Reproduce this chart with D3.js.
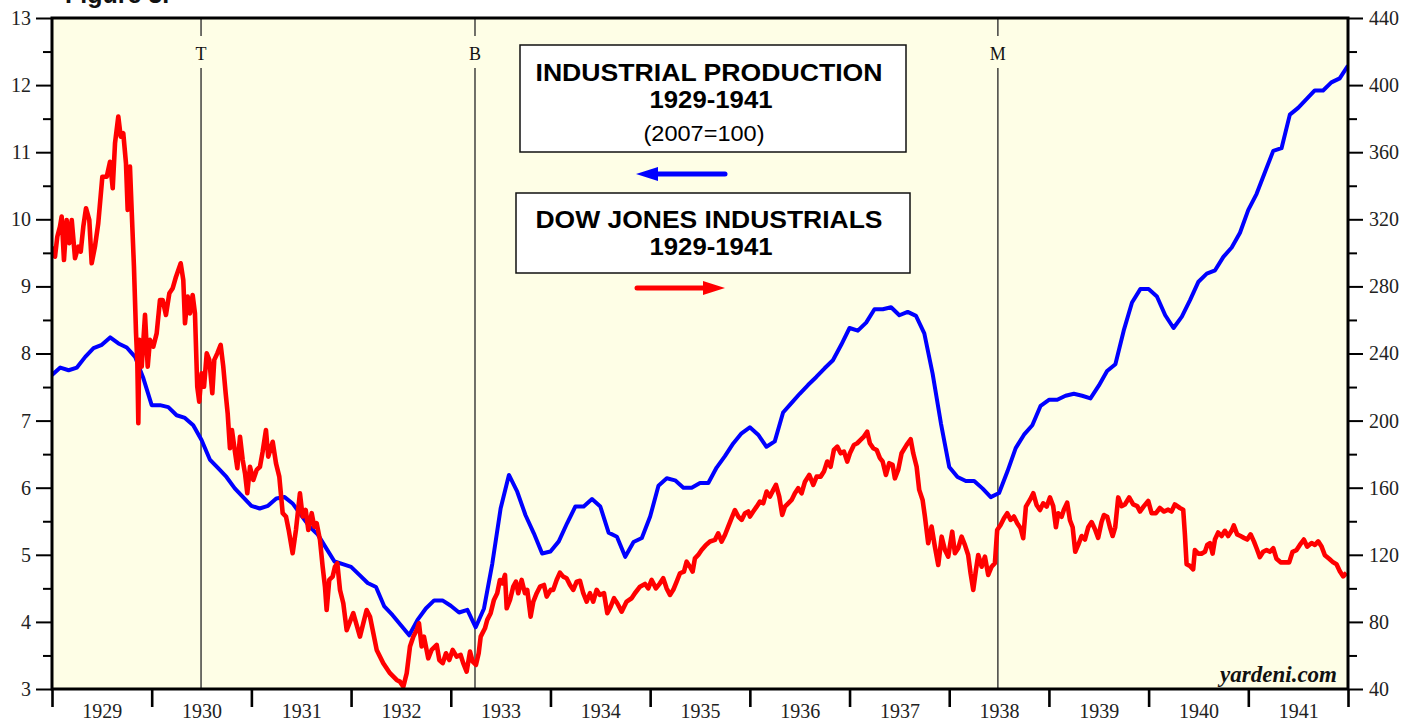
<!DOCTYPE html>
<html>
<head>
<meta charset="utf-8">
<script src="https://cdn.jsdelivr.net/npm/d3@7/dist/d3.min.js"></script>
<style>
    body { margin: 0; background: #fff; }
    svg { display: block; }
</style>
</head>
<body>
<div id="chart"></div>
<script>
// industrial production, monthly from Jan 1929 (2007=100)
const ipStartYear = 1929;
const ipValues = [
    7.68, 7.79, 7.75, 7.79, 7.95, 8.08, 8.13, 8.24, 8.15, 8.09, 7.95, 7.63,
    7.23, 7.23, 7.20, 7.08, 7.04, 6.93, 6.71, 6.42, 6.29, 6.16, 5.99, 5.86,
    5.73, 5.69, 5.73, 5.84, 5.86, 5.76, 5.59, 5.42, 5.30, 5.10, 4.90, 4.86,
    4.82, 4.70, 4.58, 4.52, 4.23, 4.10, 3.95, 3.80, 4.03, 4.20, 4.32, 4.32,
    4.24, 4.14, 4.18, 3.92, 4.20, 4.87, 5.69, 6.19, 5.94, 5.59, 5.32, 5.02,
    5.05, 5.20, 5.47, 5.72, 5.72, 5.83, 5.72, 5.33, 5.27, 4.97, 5.19, 5.25,
    5.57, 6.03, 6.14, 6.11, 6.00, 6.00, 6.07, 6.07, 6.30, 6.47, 6.66, 6.81,
    6.90, 6.79, 6.61, 6.69, 7.12, 7.26, 7.40, 7.53, 7.65, 7.78, 7.90, 8.13,
    8.38, 8.34, 8.46, 8.66, 8.66, 8.69, 8.57, 8.62, 8.56, 8.30, 7.70, 6.96,
    6.31, 6.16, 6.10, 6.10, 5.99, 5.86, 5.92, 6.24, 6.59, 6.79, 6.93, 7.22,
    7.31, 7.31, 7.37, 7.40, 7.37, 7.33, 7.52, 7.74, 7.84, 8.34, 8.76, 8.96,
    8.96, 8.85, 8.57, 8.38, 8.55, 8.80, 9.07, 9.19, 9.24, 9.44, 9.58, 9.80,
    10.14, 10.38, 10.70, 11.02, 11.06, 11.56, 11.66, 11.79, 11.92, 11.92, 12.04, 12.10,
    12.29
];

// dow jones industrials (decimal year, index level)
const dowDates = [
    1929.000, 1929.030, 1929.053, 1929.080, 1929.097, 1929.120, 1929.147, 1929.174, 1929.198, 1929.231,
    1929.264, 1929.288, 1929.314, 1929.341, 1929.374, 1929.398, 1929.431, 1929.464, 1929.505, 1929.549,
    1929.582, 1929.609, 1929.632, 1929.665, 1929.689, 1929.715, 1929.742, 1929.759, 1929.782, 1929.799,
    1929.822, 1929.843, 1929.856, 1929.866, 1929.876, 1929.900, 1929.933, 1929.960, 1929.983, 1930.016,
    1930.050, 1930.083, 1930.110, 1930.143, 1930.177, 1930.211, 1930.244, 1930.291, 1930.317, 1930.334,
    1930.361, 1930.384, 1930.411, 1930.434, 1930.457, 1930.477, 1930.501, 1930.525, 1930.552, 1930.578,
    1930.608, 1930.628, 1930.658, 1930.692, 1930.718, 1930.742, 1930.762, 1930.785, 1930.805, 1930.828,
    1930.859, 1930.886, 1930.913, 1930.936, 1930.959, 1930.986, 1931.019, 1931.053, 1931.086, 1931.113,
    1931.146, 1931.169, 1931.214, 1931.247, 1931.280, 1931.314, 1931.347, 1931.374, 1931.414, 1931.447,
    1931.487, 1931.514, 1931.545, 1931.571, 1931.605, 1931.631, 1931.655, 1931.688, 1931.715, 1931.738,
    1931.755, 1931.781, 1931.815, 1931.838, 1931.862, 1931.889, 1931.922, 1931.956, 1932.022, 1932.089,
    1932.156, 1932.190, 1932.257, 1932.323, 1932.390, 1932.457, 1932.490, 1932.524, 1932.558, 1932.591,
    1932.624, 1932.658, 1932.681, 1932.708, 1932.731, 1932.774, 1932.808, 1932.859, 1932.885, 1932.919,
    1932.952, 1932.985, 1933.019, 1933.059, 1933.099, 1933.125, 1933.159, 1933.193, 1933.220, 1933.253,
    1933.280, 1933.300, 1933.343, 1933.366, 1933.400, 1933.433, 1933.466, 1933.493, 1933.517, 1933.544,
    1933.561, 1933.594, 1933.627, 1933.654, 1933.677, 1933.711, 1933.744, 1933.767, 1933.801, 1933.828,
    1933.862, 1933.895, 1933.935, 1933.962, 1934.002, 1934.028, 1934.062, 1934.095, 1934.128, 1934.162,
    1934.196, 1934.229, 1934.263, 1934.296, 1934.329, 1934.363, 1934.396, 1934.429, 1934.463, 1934.496,
    1934.537, 1934.570, 1934.604, 1934.637, 1934.670, 1934.714, 1934.764, 1934.814, 1934.847, 1934.898,
    1934.948, 1934.981, 1935.015, 1935.058, 1935.098, 1935.131, 1935.165, 1935.199, 1935.232, 1935.266,
    1935.299, 1935.339, 1935.366, 1935.399, 1935.426, 1935.449, 1935.482, 1935.516, 1935.560, 1935.600,
    1935.650, 1935.683, 1935.717, 1935.750, 1935.783, 1935.817, 1935.850, 1935.884, 1935.918, 1935.951,
    1935.984, 1936.001, 1936.034, 1936.068, 1936.101, 1936.134, 1936.168, 1936.202, 1936.235, 1936.262,
    1936.295, 1936.325, 1936.352, 1936.385, 1936.419, 1936.452, 1936.485, 1936.519, 1936.553, 1936.596,
    1936.636, 1936.670, 1936.710, 1936.743, 1936.776, 1936.810, 1936.843, 1936.877, 1936.911, 1936.944,
    1936.977, 1937.004, 1937.044, 1937.077, 1937.111, 1937.144, 1937.177, 1937.204, 1937.238, 1937.272,
    1937.305, 1937.332, 1937.365, 1937.398, 1937.432, 1937.455, 1937.488, 1937.522, 1937.573, 1937.613,
    1937.639, 1937.673, 1937.699, 1937.733, 1937.756, 1937.789, 1937.823, 1937.856, 1937.890, 1937.924,
    1937.957, 1937.990, 1938.030, 1938.057, 1938.090, 1938.124, 1938.157, 1938.190, 1938.214, 1938.241,
    1938.268, 1938.291, 1938.325, 1938.358, 1938.391, 1938.425, 1938.458, 1938.481, 1938.515, 1938.549,
    1938.582, 1938.616, 1938.649, 1938.682, 1938.716, 1938.742, 1938.769, 1938.809, 1938.843, 1938.876,
    1938.910, 1938.943, 1938.977, 1939.010, 1939.043, 1939.070, 1939.093, 1939.127, 1939.150, 1939.183,
    1939.211, 1939.238, 1939.264, 1939.294, 1939.328, 1939.361, 1939.394, 1939.428, 1939.461, 1939.494,
    1939.528, 1939.552, 1939.585, 1939.612, 1939.639, 1939.665, 1939.695, 1939.729, 1939.762, 1939.805,
    1939.845, 1939.886, 1939.913, 1939.953, 1939.996, 1940.030, 1940.073, 1940.113, 1940.153, 1940.196,
    1940.230, 1940.263, 1940.314, 1940.347, 1940.364, 1940.381, 1940.414, 1940.447, 1940.464, 1940.498,
    1940.531, 1940.565, 1940.588, 1940.615, 1940.642, 1940.665, 1940.698, 1940.732, 1940.765, 1940.798,
    1940.832, 1940.855, 1940.888, 1940.922, 1940.956, 1940.989, 1941.023, 1941.056, 1941.083, 1941.116,
    1941.149, 1941.183, 1941.217, 1941.250, 1941.283, 1941.324, 1941.367, 1941.410, 1941.444, 1941.484,
    1941.517, 1941.557, 1941.590, 1941.635, 1941.668, 1941.701, 1941.735, 1941.768, 1941.811, 1941.851,
    1941.885, 1941.918, 1941.952, 1941.985
];
const dowValues = [
    303.7, 297.7, 309.6, 315.6, 321.6, 295.7, 319.6, 305.8, 319.6, 296.8,
    303.7, 300.7, 315.6, 326.6, 319.6, 293.8, 303.7, 317.6, 345.4, 345.4,
    354.3, 338.5, 365.3, 381.2, 369.3, 371.3, 353.4, 325.6, 351.4, 325.6,
    291.8, 252.0, 234.2, 198.4, 248.1, 232.2, 263.0, 232.2, 248.1, 244.1,
    252.0, 271.9, 271.9, 263.0, 275.9, 278.9, 285.8, 293.8, 283.8, 258.0,
    273.9, 263.9, 274.9, 263.9, 220.2, 211.3, 228.2, 220.2, 240.1, 236.2,
    216.3, 236.2, 240.1, 245.1, 232.2, 216.3, 204.4, 183.5, 194.4, 184.5,
    171.6, 190.4, 176.5, 168.6, 156.7, 172.5, 164.6, 170.6, 172.5, 181.5,
    194.4, 178.5, 187.4, 174.5, 166.6, 144.8, 142.8, 134.8, 120.9, 134.8,
    156.7, 142.8, 146.7, 134.8, 144.8, 136.8, 138.8, 128.9, 112.9, 101.0,
    87.1, 105.0, 107.0, 112.9, 115.0, 99.0, 91.1, 75.0, 85.2, 71.2,
    87.1, 83.1, 63.3, 55.4, 49.4, 45.4, 44.4, 41.4, 49.4, 65.3,
    71.2, 75.2, 79.2, 65.3, 71.2, 58.3, 63.3, 66.3, 57.3, 55.4,
    61.3, 57.3, 63.3, 59.3, 60.3, 55.4, 50.4, 62.3, 56.3, 54.4,
    61.3, 71.2, 76.2, 81.2, 85.2, 93.1, 97.1, 105.0, 103.0, 108.0,
    88.1, 93.1, 101.0, 104.0, 97.1, 105.0, 97.1, 99.1, 83.1, 92.1,
    97.1, 101.0, 102.0, 95.1, 99.1, 99.1, 105.0, 109.4, 107.0, 106.0,
    102.0, 99.1, 104.0, 104.5, 97.1, 92.1, 97.1, 92.1, 99.1, 96.1,
    97.1, 85.2, 89.1, 94.1, 91.1, 86.1, 92.1, 94.1, 97.1, 101.0,
    102.6, 100.0, 105.0, 100.0, 103.0, 106.0, 100.0, 96.1, 99.1, 104.0,
    109.0, 110.0, 115.9, 112.9, 110.0, 117.9, 119.9, 122.9, 125.9, 127.9,
    128.9, 132.8, 127.9, 131.8, 136.8, 141.8, 146.7, 142.8, 140.8, 144.8,
    145.8, 142.8, 145.8, 148.7, 151.7, 150.7, 157.7, 154.7, 158.7, 161.7,
    154.7, 143.8, 148.7, 150.7, 152.7, 156.7, 159.7, 156.7, 163.6, 167.6,
    161.7, 166.6, 166.6, 169.6, 175.6, 172.5, 182.5, 184.5, 180.5, 181.5,
    175.6, 180.5, 185.5, 186.5, 188.5, 190.5, 193.4, 186.5, 183.5, 182.5,
    177.6, 175.6, 167.6, 174.6, 173.6, 165.6, 170.6, 180.5, 185.5, 188.9,
    180.5, 172.5, 158.7, 152.7, 142.8, 126.9, 136.8, 124.9, 113.9, 130.8,
    122.9, 118.9, 133.8, 120.9, 123.9, 130.8, 125.9, 119.9, 109.0, 99.1,
    111.0, 119.9, 112.9, 118.9, 108.0, 112.9, 115.0, 134.8, 137.8, 141.8,
    144.8, 140.8, 142.8, 138.8, 135.8, 129.9, 148.7, 152.7, 156.7, 149.7,
    146.7, 150.7, 148.7, 154.2, 149.0, 136.4, 144.8, 142.7, 146.9, 151.1,
    140.6, 136.4, 121.8, 125.9, 131.2, 129.1, 136.4, 139.5, 135.4, 130.1,
    139.5, 143.7, 142.7, 136.4, 131.2, 136.4, 154.2, 149.0, 150.0, 154.2,
    150.0, 149.0, 145.8, 149.0, 152.1, 144.8, 144.8, 147.9, 145.8, 146.9,
    145.8, 150.0, 147.9, 146.9, 132.2, 114.4, 113.4, 111.3, 122.8, 120.7,
    120.7, 121.8, 125.9, 127.0, 120.7, 129.1, 133.3, 131.2, 134.3, 131.2,
    134.3, 137.5, 132.2, 131.2, 130.1, 129.1, 132.2, 128.0, 123.9, 118.6,
    121.8, 122.8, 121.8, 123.9, 117.6, 115.5, 115.5, 115.5, 121.8, 122.8,
    125.9, 129.1, 124.9, 127.0, 125.9, 128.0, 124.9, 119.7, 117.6, 115.5,
    114.4, 110.2, 107.1, 109.2
];

// event markers
const eventLabels = ["T", "B", "M"];
const eventDates = [1930.495, 1933.243, 1938.488];

// axis ticks
const yearTicks = d3.range(1929, 1943);
const yearLabels = d3.range(1929, 1942);
const leftTicks = d3.range(3, 14);
const leftMinorTicks = d3.range(3.5, 13, 1);
const rightTicks = d3.range(40, 441, 40);
const rightMinorTicks = d3.range(60, 440, 40);

const width = 1407;
const height = 721;
const margin = { top: 18, right: 59, bottom: 32, left: 52 };
const bgColor = "#fefee6";
const serif = "'Liberation Serif', 'Times New Roman', serif";
const sans = "'Liberation Sans', Arial, Helvetica, sans-serif";

const x = d3.scaleLinear()
    .domain([1929, 1942])
    .range([margin.left, width - margin.right]);

const yLeft = d3.scaleLinear()
    .domain([3, 13])
    .range([height - margin.bottom, margin.top]);

const yRight = d3.scaleLinear()
    .domain([40, 440])
    .range([height - margin.bottom, margin.top]);

const svg = d3.select("#chart")
    .append("svg")
    .attr("width", width)
    .attr("height", height);

const plotW = width - margin.left - margin.right;
const plotH = height - margin.top - margin.bottom;

svg.append("rect")
    .attr("x", margin.left)
    .attr("y", margin.top)
    .attr("width", plotW)
    .attr("height", plotH)
    .attr("fill", bgColor);

svg.append("clipPath")
    .attr("id", "plot-clip")
    .append("rect")
    .attr("x", margin.left)
    .attr("y", margin.top)
    .attr("width", plotW)
    .attr("height", plotH);

// title peeking from the top edge
svg.append("text")
    .attr("x", 65)
    .attr("y", 3)
    .attr("font-family", sans)
    .attr("font-weight", "bold")
    .attr("font-size", 25)
    .attr("fill", "#111")
    .text("Figure 3.");

// vertical event lines with labels
eventDates.forEach((d, i) => {
    const ex = x(d);
    svg.append("line")
        .attr("x1", ex).attr("x2", ex)
        .attr("y1", margin.top).attr("y2", height - margin.bottom)
        .attr("stroke", "#333")
        .attr("stroke-width", 1.4);
    svg.append("rect")
        .attr("x", ex - 9)
        .attr("y", margin.top + 18)
        .attr("width", 18)
        .attr("height", 32)
        .attr("fill", bgColor);
    svg.append("text")
        .attr("x", ex)
        .attr("y", margin.top + 42)
        .attr("text-anchor", "middle")
        .attr("font-family", serif)
        .attr("font-size", 18)
        .attr("fill", "#111")
        .text(eventLabels[i]);
});

// lines
const ipData = ipValues.map((v, i) => ({ date: ipStartYear + i / 12, value: v }));
const dowData = dowDates.map((d, i) => ({ date: d, value: dowValues[i] }));

const plot = svg.append("g").attr("clip-path", "url(#plot-clip)");

plot.append("path")
    .datum(ipData)
    .attr("fill", "none")
    .attr("stroke", "#0000ff")
    .attr("stroke-width", 4)
    .attr("stroke-linejoin", "round")
    .attr("d", d3.line().x(d => x(d.date)).y(d => yLeft(d.value)));

plot.append("path")
    .datum(dowData)
    .attr("fill", "none")
    .attr("stroke", "#ff0000")
    .attr("stroke-width", 4.6)
    .attr("stroke-linejoin", "round")
    .attr("d", d3.line().x(d => x(d.date)).y(d => yRight(d.value)));

// legend boxes
function legendBox(bx, by, bw, bh, lines) {
    svg.append("rect")
        .attr("x", bx).attr("y", by)
        .attr("width", bw).attr("height", bh)
        .attr("fill", "#fff")
        .attr("stroke", "#111")
        .attr("stroke-width", 1.5);
    lines.forEach(l => {
        const t = svg.append("text")
            .attr("x", l.x)
            .attr("y", l.y)
            .attr("text-anchor", "middle")
            .attr("font-family", sans)
            .attr("font-weight", l.bold ? "bold" : "normal")
            .attr("font-size", l.size)
            .attr("fill", "#000")
            .text(l.text);
        if (l.len) {
            t.attr("textLength", l.len).attr("lengthAdjust", "spacingAndGlyphs");
        }
    });
}

legendBox(520, 45, 386, 107, [
    { text: "INDUSTRIAL PRODUCTION", x: 709, y: 81, size: 24, bold: true, len: 347 },
    { text: "1929-1941", x: 711, y: 108, size: 24, bold: true, len: 123 },
    { text: "(2007=100)", x: 704, y: 141, size: 22, bold: false, len: 121 }
]);

legendBox(516, 193, 394, 80, [
    { text: "DOW JONES INDUSTRIALS", x: 709, y: 228, size: 24, bold: true, len: 347 },
    { text: "1929-1941", x: 711, y: 255, size: 24, bold: true, len: 123 }
]);

function arrow(x1, x2, yy, color) {
    const dir = x2 > x1 ? 1 : -1;
    svg.append("line")
        .attr("x1", x1).attr("x2", x2 - dir * 14)
        .attr("y1", yy).attr("y2", yy)
        .attr("stroke", color)
        .attr("stroke-width", 5)
        .attr("stroke-linecap", "round");
    svg.append("path")
        .attr("d", `M${x2},${yy} L${x2 - dir * 22},${yy - 7} L${x2 - dir * 22},${yy + 7} Z`)
        .attr("fill", color);
}

arrow(725, 636, 174, "#0000ff");
arrow(637, 725, 288, "#ff0000");

// watermark
svg.append("text")
    .attr("x", 1337)
    .attr("y", 682)
    .attr("text-anchor", "end")
    .attr("font-family", serif)
    .attr("font-style", "italic")
    .attr("font-weight", "bold")
    .attr("font-size", 23)
    .attr("fill", "#111")
    .text("yardeni.com");

// frame
svg.append("rect")
    .attr("x", margin.left)
    .attr("y", margin.top)
    .attr("width", plotW)
    .attr("height", plotH)
    .attr("fill", "none")
    .attr("stroke", "#000")
    .attr("stroke-width", 3);

// axes
function styleAxis(g, fontSize) {
    g.select(".domain").remove();
    g.selectAll(".tick line").attr("stroke", "#000").attr("stroke-width", 2);
    g.selectAll(".tick text")
        .attr("font-family", serif)
        .attr("font-size", fontSize)
        .attr("fill", "#222");
}

svg.append("g")
    .attr("transform", `translate(${margin.left},0)`)
    .call(d3.axisLeft(yLeft).tickValues(leftTicks).tickSize(16).tickPadding(5))
    .call(g => styleAxis(g, 20));

svg.append("g")
    .attr("transform", `translate(${margin.left},0)`)
    .call(d3.axisLeft(yLeft).tickValues(leftMinorTicks).tickSize(9).tickFormat(""))
    .call(g => styleAxis(g, 20));

svg.append("g")
    .attr("transform", `translate(${width - margin.right},0)`)
    .call(d3.axisRight(yRight).tickValues(rightTicks).tickSize(15).tickPadding(6))
    .call(g => styleAxis(g, 20));

svg.append("g")
    .attr("transform", `translate(${width - margin.right},0)`)
    .call(d3.axisRight(yRight).tickValues(rightMinorTicks).tickSize(9).tickFormat(""))
    .call(g => styleAxis(g, 20));

svg.append("g")
    .attr("transform", `translate(0,${height - margin.bottom})`)
    .call(d3.axisBottom(x).tickValues(yearTicks).tickSize(18).tickFormat(""))
    .call(g => styleAxis(g, 20))
    .call(g => g.selectAll(".tick line").attr("stroke-width", 2.6));

svg.append("g")
    .attr("transform", `translate(0,${height - margin.bottom})`)
    .call(d3.axisBottom(x).tickValues(yearLabels.map(d => d + 0.5)).tickSize(0).tickFormat(d => Math.floor(d)))
    .call(g => styleAxis(g, 20))
    .call(g => g.selectAll(".tick text").attr("dy", null).attr("y", 29));
</script>
</body>
</html>
